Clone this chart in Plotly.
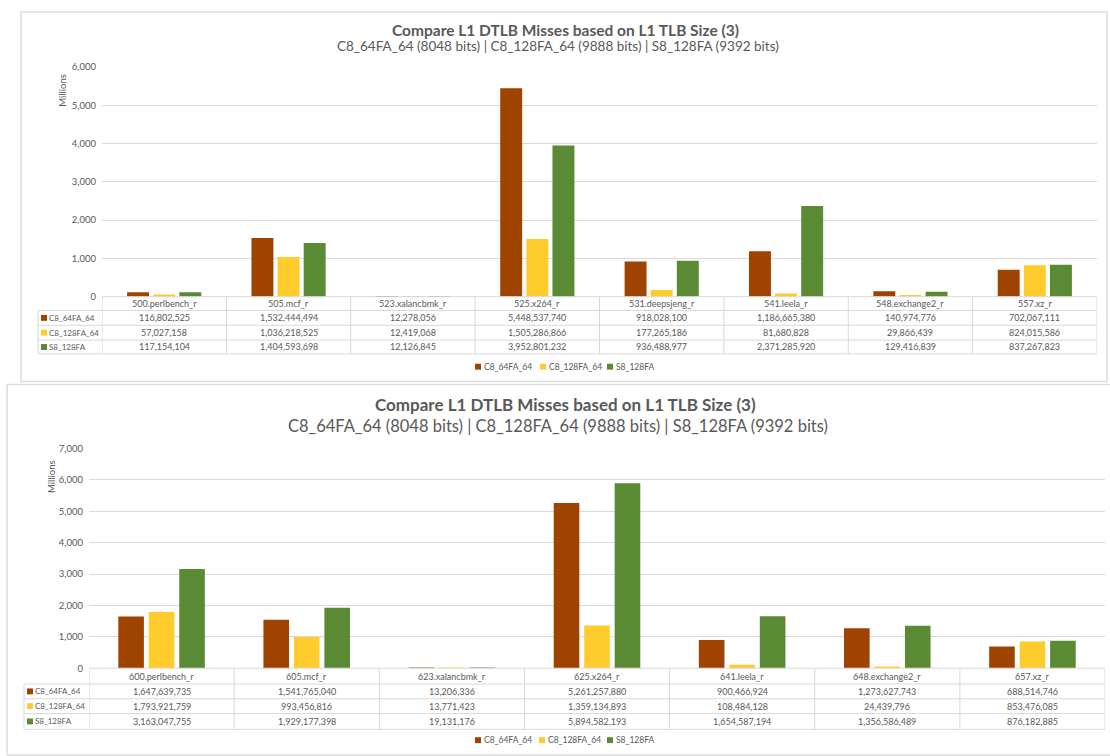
import plotly.graph_objects as go

# ---- data -------------------------------------------------------------
series_names = ["C8_64FA_64", "C8_128FA_64", "S8_128FA"]
series_colors = ["#9E4300", "#FFCC2E", "#5A8A34"]

bench_2017_a = ["500.perlbench_r", "505.mcf_r", "523.xalancbmk_r", "525.x264_r",
                "531.deepsjeng_r", "541.leela_r", "548.exchange2_r", "557.xz_r"]
c8_64fa_a = [116802525, 1532444494, 12278056, 5448537740,
             918028100, 1186665380, 140974776, 702067111]
c8_128fa_a = [57027158, 1036218525, 12419068, 1505286866,
              177265186, 81680828, 29866439, 824015586]
s8_128fa_a = [117154104, 1404593698, 12126845, 3952801232,
              936488977, 2371285920, 129416839, 837267823]

bench_2017_b = ["600.perlbench_r", "605.mcf_r", "623.xalancbmk_r", "625.x264_r",
                "641.leela_r", "648.exchange2_r", "657.xz_r"]
c8_64fa_b = [1647639735, 1541765040, 13206336, 5261257880,
             900466924, 1273627743, 688514746]
c8_128fa_b = [1793921759, 993456816, 13771423, 1359134893,
              108484128, 24439796, 853476085]
s8_128fa_b = [3163047755, 1929177398, 19131176, 5894582193,
              1654587194, 1356586489, 876182885]

title_main = "Compare L1 DTLB Misses based on L1 TLB Size (3)"
title_sub = "C8_64FA_64 (8048 bits) | C8_128FA_64 (9888 bits) | S8_128FA (9392 bits)"

# ---- page geometry (pixels) --------------------------------------------
W, H = 1110, 756
FONT = "Lato"
GRID = "#D9D9D9"
TXT = "#595959"


def px(xp):
    return xp / W


def py(yp):
    return 1 - yp / H


panels = [
    dict(xa="x", ya="y", cats=bench_2017_a,
         vals=[c8_64fa_a, c8_128fa_a, s8_128fa_a],
         box=(21, 6, 1107, 381), plot_x=(102, 1097), plot_y=(62, 295), ymax=6000,
         rows=(295, 309, 324, 339, 353), table_left=38,
         title_y=(24, 41), title_size=(15.5, 13.5), millions_x=63, millions_y=86,
         legend_y=366, legend_x=(478, 543, 610), font=9, key=6),
    dict(xa="x2", ya="y2", cats=bench_2017_b,
         vals=[c8_64fa_b, c8_128fa_b, s8_128fa_b],
         box=(7, 384, 1116, 760), plot_x=(89, 1105), plot_y=(449, 672), ymax=7000,
         rows=(672, 688, 703, 718, 734), table_left=24,
         title_y=(404, 426), title_size=(17, 16.5), millions_x=51, millions_y=478,
         legend_y=745, legend_x=(478, 542, 610), font=9, key=6),
]

fig = go.Figure()
shapes = []
annotations = []

for k, p in enumerate(panels):
    # bars, in millions
    for name, color, vals in zip(series_names, series_colors, p["vals"]):
        fig.add_trace(go.Bar(
            x=p["cats"], y=[v / 1e6 for v in vals], name=name,
            marker=dict(color=color, line=dict(width=0)),
            xaxis=p["xa"], yaxis=p["ya"], showlegend=False,
        ))

    sfx = "" if k == 0 else "2"
    fig.update_layout(**{
        "xaxis" + sfx: dict(
            domain=[px(p["plot_x"][0]), px(p["plot_x"][1])],
            anchor="y" + sfx, type="category", showticklabels=False,
            showgrid=False, showline=False, zeroline=False, fixedrange=True,
            range=[-0.5, len(p["cats"]) - 0.5],
        ),
        "yaxis" + sfx: dict(
            domain=[py(p["plot_y"][1]), py(p["plot_y"][0])],
            anchor="x" + sfx, range=[0, p["ymax"]], dtick=1000,
            tickformat=",", showgrid=True, gridcolor=GRID, gridwidth=1,
            zeroline=False, showline=False, ticks="", ticklabelstandoff=5,
            tickfont=dict(family=FONT, size=9.5, color=TXT), fixedrange=True,
        ),
    })

    # chart border
    bx0, by0, bx1, by1 = p["box"]
    shapes.append(dict(type="rect", xref="paper", yref="paper",
                       x0=px(bx0), x1=px(bx1), y0=py(by1), y1=py(by0),
                       line=dict(color="#DDDDDD", width=1.5), layer="below"))

    # titles
    annotations.append(dict(xref="paper", yref="paper", x=px(565), y=py(p["title_y"][0]),
                            text="<b>" + title_main + "</b>", showarrow=False,
                            font=dict(family=FONT, size=p["title_size"][0], color=TXT),
                            xanchor="center", yanchor="middle"))
    annotations.append(dict(xref="paper", yref="paper", x=px(558), y=py(p["title_y"][1]),
                            text=title_sub, showarrow=False,
                            font=dict(family=FONT, size=p["title_size"][1], color=TXT),
                            xanchor="center", yanchor="middle"))

    # axis title
    annotations.append(dict(xref="paper", yref="paper", x=px(p["millions_x"]),
                            y=py(p["millions_y"]), text="Millions", textangle=-90,
                            showarrow=False, font=dict(family=FONT, size=9.5, color=TXT),
                            xanchor="center", yanchor="middle"))

    # data table
    r = p["rows"]
    n = len(p["cats"])
    xa = p["xa"]
    x_left = p["table_left"]
    x_right = p["plot_x"][1]
    shapes.append(dict(type="line", xref="paper", yref="paper",
                       x0=px(p["plot_x"][0]), x1=px(x_right), y0=py(r[0]), y1=py(r[0]),
                       line=dict(color=GRID, width=1)))
    for yy in r[1:]:
        shapes.append(dict(type="line", xref="paper", yref="paper",
                           x0=px(x_left), x1=px(x_right), y0=py(yy), y1=py(yy),
                           line=dict(color=GRID, width=1)))
    for i in range(n + 1):
        shapes.append(dict(type="line", xref=xa, yref="paper",
                           x0=i - 0.5, x1=i - 0.5, y0=py(r[0]), y1=py(r[-1]),
                           line=dict(color=GRID, width=1)))
    shapes.append(dict(type="line", xref="paper", yref="paper",
                       x0=px(x_left), x1=px(x_left), y0=py(r[1]), y1=py(r[-1]),
                       line=dict(color=GRID, width=1)))

    # header row
    for i, c in enumerate(p["cats"]):
        annotations.append(dict(xref=xa, yref="paper", x=i, y=py((r[0] + r[1]) / 2),
                                text=c, showarrow=False,
                                font=dict(family=FONT, size=p["font"], color=TXT),
                                xanchor="center", yanchor="middle"))
    # series rows
    ks = p["key"]
    for j, (name, color, vals) in enumerate(zip(series_names, series_colors, p["vals"])):
        yc = (r[j + 1] + r[j + 2]) / 2
        shapes.append(dict(type="rect", xref="paper", yref="paper",
                           x0=px(x_left + 3), x1=px(x_left + 3 + ks),
                           y0=py(yc + ks / 2), y1=py(yc - ks / 2),
                           fillcolor=color, line=dict(width=0)))
        annotations.append(dict(xref="paper", yref="paper", x=px(x_left + 9), y=py(yc),
                                text=name, showarrow=False,
                                font=dict(family=FONT, size=8, color=TXT),
                                xanchor="left", yanchor="middle"))
        for i, v in enumerate(vals):
            annotations.append(dict(xref=xa, yref="paper", x=i, y=py(yc),
                                    text=f"{v:,}", showarrow=False,
                                    font=dict(family=FONT, size=p["font"], color=TXT),
                                    xanchor="center", yanchor="middle"))

    # legend
    ly = p["legend_y"]
    for name, color, lx in zip(series_names, series_colors, p["legend_x"]):
        shapes.append(dict(type="rect", xref="paper", yref="paper",
                           x0=px(lx - 3), x1=px(lx + 3), y0=py(ly + 3), y1=py(ly - 3),
                           fillcolor=color, line=dict(width=0)))
        annotations.append(dict(xref="paper", yref="paper", x=px(lx + 4), y=py(ly),
                                text=name, showarrow=False,
                                font=dict(family=FONT, size=8.5, color=TXT),
                                xanchor="left", yanchor="middle"))

fig.update_layout(
    width=W, height=H, margin=dict(l=0, r=0, t=0, b=0),
    paper_bgcolor="white", plot_bgcolor="white",
    barmode="group", bargap=0.37, bargroupgap=0.16,
    shapes=shapes, annotations=annotations, showlegend=False,
    font=dict(family=FONT, color=TXT),
)

fig.write_html("out.html")
